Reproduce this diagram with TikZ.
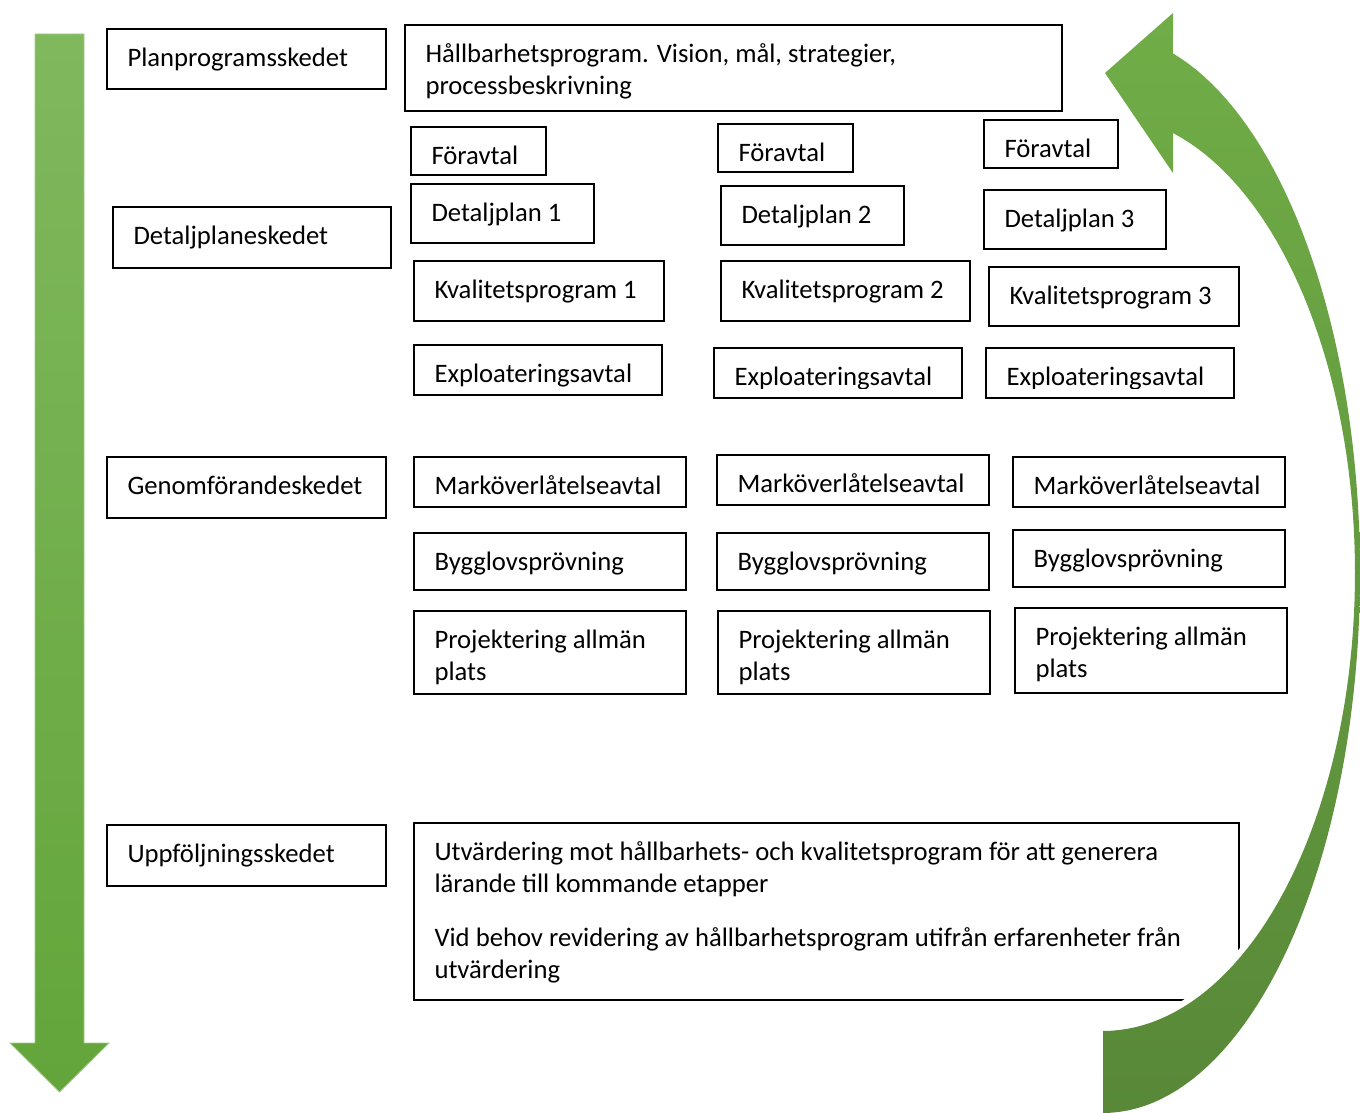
\documentclass[tikz,border=0pt]{standalone}
\usepackage{fontspec}
\setmainfont{Carlito}
\definecolor{arrTop}{RGB}{128,184,94}
\definecolor{arrBot}{RGB}{99,165,58}
\definecolor{arrEdge}{RGB}{160,205,135}
\definecolor{cTop}{RGB}{112,173,71}
\definecolor{cBot}{RGB}{88,136,56}
\tikzset{
  boxst/.style={draw=black, line width=1.3pt, fill=white, inner sep=0pt, outer sep=0pt, anchor=north west},
  txt/.style={inner sep=0pt, outer sep=0pt, anchor=base west, text=black},
}
% name, x1, y1, x2, y2, text
\newcommand\bx[6]{%
  \node[boxst, minimum width={(#4-#2)*1pt}, minimum height={(#5-#3)*1pt}] (#1) at (#2,#3) {};
  \node[txt] (#1t) at ([xshift=20.5pt,yshift=-37.5pt]#1.north west) {\begin{tabular}[t]{@{}l@{}}#6\end{tabular}};
}
\begin{document}
\begin{tikzpicture}[x=1pt, y=-1pt, font=\fontsize{26.67}{32}\selectfont]
\useasboundingbox (0,0) rectangle (1360,1113);
\clip (0,0) rectangle (1360,1113);
\fill[white] (0,0) rectangle (1360,1113);

% straight down arrow
\path[top color=arrTop, bottom color=arrBot, draw=arrEdge, line width=0.8pt]
  (35,34) -- (84,34) -- (84,1043) -- (109,1043) -- (59.5,1092) -- (10,1043) -- (35,1043) -- cycle;

% phase boxes
\bx{pp}{107}{29}{386}{89}{Planprogramsskedet}
\bx{dp}{113}{207}{391}{268}{Detaljplaneskedet}
\bx{gf}{107}{457}{386}{518}{Genomförandeskedet}
\bx{uf}{107}{825}{386}{886}{Uppföljningsskedet}

\bx{hp}{405}{25}{1062}{111}{Hållbarhetsprogram. Vision, mål, strategier,\\processbeskrivning}

\bx{fa}{411}{127}{546}{175}{Föravtal}
\bx{fb}{718}{124}{853}{172}{Föravtal}
\bx{fc}{984}{120}{1118}{168}{Föravtal}

\bx{da}{411}{184}{594}{243}{Detaljplan 1}
\bx{db}{721}{186}{904}{245}{Detaljplan 2}
\bx{dc}{984}{190}{1166}{249}{Detaljplan 3}

\bx{ka}{414}{261}{664}{321}{Kvalitetsprogram 1}
\bx{kb}{721}{261}{970}{321}{Kvalitetsprogram 2}
\bx{kc}{989}{267}{1239}{326}{Kvalitetsprogram 3}

\bx{ea}{414}{345}{662}{395}{Exploateringsavtal}
\bx{eb}{714}{348}{962}{398}{Exploateringsavtal}
\bx{ec}{986}{348}{1234}{398}{Exploateringsavtal}
% clipped descenders in boxes 2 and 3
\fill[white] ([xshift=1pt,yshift=1pt]eb.south west) rectangle ([xshift=-1pt,yshift=9.5pt]eb.south east);
\fill[white] ([xshift=1pt,yshift=1pt]ec.south west) rectangle ([xshift=-1pt,yshift=9.5pt]ec.south east);

\bx{ma}{414}{457}{686}{507}{Marköverlåtelseavtal}
\bx{mb}{717}{455}{989}{505}{Marköverlåtelseavtal}
\bx{mc}{1013}{457}{1285}{507}{Marköverlåtelseavtal}

\bx{ba}{414}{533}{686}{590}{Bygglovsprövning}
\bx{bb}{717}{533}{989}{590}{Bygglovsprövning}
\bx{bc}{1013}{530}{1285}{587}{Bygglovsprövning}

\bx{pa}{414}{611}{686}{694}{Projektering allmän\\plats}
\bx{pb}{718}{611}{990}{694}{Projektering allmän\\plats}
\bx{pc}{1015}{608}{1287}{693}{Projektering allmän\\plats}

\bx{ut}{414}{823}{1239}{1000}{Utvärdering mot hållbarhets- och kvalitetsprogram för att generera\\lärande till kommande etapper\\[22pt]Vid behov revidering av hållbarhetsprogram utifrån erfarenheter från\\utvärdering}

% curved return arrow
\def\curvedarrow{plot[domain=-90:74.2, samples=90, variable=\t] ({1103+257*cos(\t)},{573-540*sin(\t)})
  -- (1173,13) -- (1105,73) -- (1173,173) -- (1173,135)
  -- plot[domain=73.9:-90, samples=90, variable=\t] ({1103+252*cos(\t)},{573-458*sin(\t)}) -- cycle}
\draw[white, line width=12pt, line join=round] \curvedarrow;
\path[top color=cTop, bottom color=cBot] \curvedarrow;
\end{tikzpicture}
\end{document}
